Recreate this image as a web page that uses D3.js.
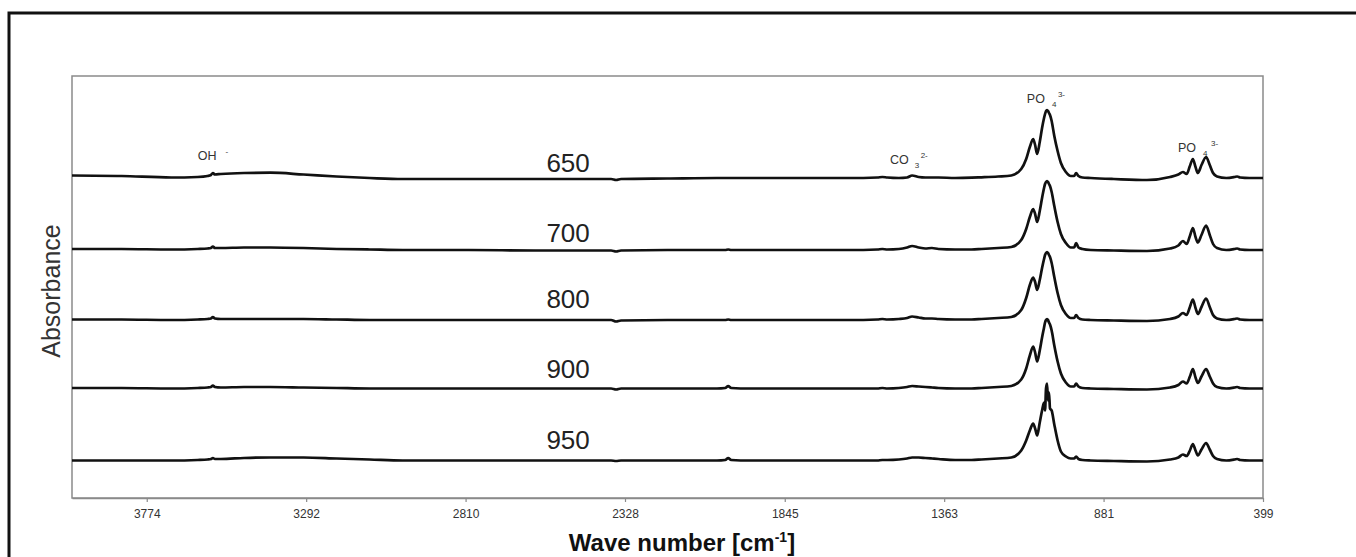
<!DOCTYPE html>
<html>
<head>
<meta charset="utf-8">
<title>FTIR spectra</title>
<script src="https://d3js.org/d3.v7.min.js"></script>
<style>
  body { margin: 0; background: #fff; }
  text { font-family: "Liberation Sans", Arial, sans-serif; }
</style>
</head>
<body>
<script>

// wave numbers (cm-1), high to low
var waveNumbers = [4000, 3850, 3700, 3620, 3590, 3580, 3574, 3568, 3550, 3480,
  3400, 3300, 3200, 3100, 3000, 2800, 2600, 2400, 2370, 2355,
  2340, 2200, 2050, 2025, 2016, 2007, 1950, 1800, 1650, 1565,
  1550, 1535, 1500, 1475, 1460, 1440, 1420, 1400, 1380, 1330,
  1280, 1250, 1200, 1160, 1130, 1115, 1104, 1094, 1088, 1082,
  1074, 1067, 1061, 1058, 1055, 1052, 1049, 1046, 1043, 1038,
  1030, 1020, 1010, 995, 980, 970, 964, 957, 945, 920,
  850, 750, 680, 655, 641, 630, 620, 611, 603, 596,
  585, 571, 560, 550, 538, 510, 485, 477, 468, 440,
  420, 399];

// absorbance above each trace's own baseline (arbitrary units)
var abs650 = [2.5, 2, 0.5, 1, 2, 3, 5, 3.5, 4, 5,
  5.3, 3.5, 1.5, 0, -1, -1, -1, -1, -1, -2,
  -1, -0.5, 0, 0, 0, 0, 0, 0, 0, 0.5,
  1, 0.5, 0, 0.5, 2.5, 1, 0.5, 0.5, 0.5, 0,
  0.3, 0.7, 1.5, 2.5, 9, 19, 31, 39, 33, 24,
  36, 50, 60, 64, 67, 68, 67, 65, 63, 57,
  42, 27, 15, 6, 2, 2, 5, 2, 0.5, 0,
  -1, -2, 1, 3.5, 6, 4, 12, 19, 11, 5,
  13, 21, 13, 5, 1.5, 0, 1, 1.5, 0.5, 0,
  0, 0];
var abs700 = [1, 1, 0.5, 1, 1.5, 2, 3.5, 2, 2, 2.5,
  2.5, 2, 1, 0.5, 0, 0, -0.5, -0.5, -0.5, -1.5,
  -0.5, 0, 0, 0, 0.5, 0, 0, 0, 0, 0.5,
  1, 0.5, 1, 2.5, 4, 2.5, 1.5, 2, 1, 0.5,
  0.5, 1, 2, 3, 10, 21, 33, 41, 36, 28,
  39, 52, 62, 66, 68, 69, 68, 66, 64, 58,
  44, 28, 16, 7, 2.5, 2.5, 7, 2.5, 1, 0,
  -0.5, -1, 1.5, 4.5, 9, 6, 14, 22, 13, 7.5,
  15, 24.5, 15, 6, 2, 0, 1, 1.5, 0.5, 0,
  0, 0];
var abs800 = [0.5, 0.5, 0, 0.5, 1, 1.5, 3, 1.5, 1, 1,
  1, 1, 0.5, 0, 0, 0, 0, 0, 0, -1.5,
  -0.5, 0, 0, 0, 0.5, 0, 0, 0, 0, 0.5,
  1, 0.5, 1, 2, 3.5, 2.5, 1.5, 1.5, 1, 0.5,
  0.5, 1, 2, 3, 10, 22, 35, 42.5, 38, 30,
  40, 52, 61, 65, 67, 68, 67, 65, 63, 57,
  43, 27, 15, 6, 2, 2, 5, 2, 0.5, 0,
  -0.5, -1, 1, 3.5, 7, 5, 13, 20.5, 12, 6,
  13, 21.5, 13, 5, 1.5, 0, 1, 1.5, 0.5, 0,
  0, 0];
var abs900 = [0.5, 0.5, 0, 0.5, 1, 1.5, 3, 1.5, 1, 1.5,
  1.5, 1, 0.5, 0, 0, 0, 0, 0, 0, -1,
  0, 0, 0, 0.5, 2.5, 0.5, 0, 0, 0, 0,
  0.5, 0, 0.5, 1.5, 2.5, 2, 1.5, 1, 0.5, 0,
  0, 0.5, 1.5, 2.5, 9, 20, 33, 42, 36, 27,
  38, 51, 61, 66, 68.5, 69.5, 68.5, 66, 64, 58,
  43, 27, 15, 6, 2, 2, 5, 2, 0.5, 0,
  -0.5, -1, 1, 3.5, 7, 5, 12, 19.5, 11, 5.5,
  12, 19.5, 12, 5, 1.5, 0, 1, 1.5, 0.5, 0,
  0, 0];
var abs950 = [0, 0, 0, 0.5, 1, 1.5, 2.5, 1.5, 1.5, 2.5,
  3, 3, 2, 1, 0, 0, 0, 0, 0, -0.5,
  0, 0, 0, 0.5, 2.5, 0.5, 0, 0, 0, 0,
  0.5, 0.5, 1, 2, 3, 3, 2.5, 2, 1.5, 0.5,
  0.5, 1, 2, 3, 10, 20, 30, 37, 32, 25,
  38, 50, 58, 50, 72, 77, 60, 68, 52, 50,
  36, 20, 9, 4, 2, 2, 4, 1.5, 0.5, 0,
  -0.5, -1, 1, 3, 6, 4.5, 10, 16.5, 10, 5,
  11, 17.5, 11, 4.5, 1.5, 0, 1, 1.5, 0.5, 0,
  0, 0];

var temperatures = ["650", "700", "800", "900", "950"];
var traceOffsets = [320, 248, 178, 109.5, 37.5];
var tickWaves = [3774, 3292, 2810, 2328, 1845, 1363, 881, 399];

var series = [abs650, abs700, abs800, abs900, abs950];

var width = 1356, height = 557;
var svg = d3.select("body").append("svg")
    .attr("width", width)
    .attr("height", height);

// outer black frame, runs off the right and bottom of the picture
svg.append("rect")
    .attr("x", 9).attr("y", 13)
    .attr("width", 1400).attr("height", 600)
    .attr("fill", "none")
    .attr("stroke", "#111")
    .attr("stroke-width", 3);

// plot box edges (window.top is taken, so no "top" here)
var plotL = 72, plotR = 1263, plotT = 76, plotB = 498;

var x = d3.scaleLinear().domain([4000, 399]).range([plotL, plotR]);
var y = d3.scaleLinear().domain([0, 422]).range([plotB, plotT]);

svg.append("rect")
    .attr("x", plotL).attr("y", plotT)
    .attr("width", plotR - plotL).attr("height", plotB - plotT)
    .attr("fill", "none")
    .attr("stroke", "#8a8a8a")
    .attr("stroke-width", 1.5);

var xAxis = d3.axisBottom(x)
    .tickValues(tickWaves)
    .tickFormat(d3.format("d"))
    .tickSizeInner(4)
    .tickSizeOuter(0)
    .tickPadding(7);

var gx = svg.append("g")
    .attr("transform", "translate(0," + plotB + ")")
    .call(xAxis);
gx.select(".domain").attr("stroke", "#8a8a8a").attr("stroke-width", 1.5);
gx.selectAll(".tick line").attr("stroke", "#8a8a8a").attr("stroke-width", 1.2);
gx.selectAll(".tick text")
    .attr("fill", "#333")
    .style("font-size", "12px")
    .style("font-family", "'Liberation Sans', Arial, sans-serif");

// spectra
var line = d3.line()
    .x(function (d) { return x(d[0]); })
    .y(function (d) { return y(d[1]); })
    .curve(d3.curveMonotoneX);

series.forEach(function (values, i) {
  var pts = waveNumbers.map(function (w, j) { return [w, values[j] + traceOffsets[i]]; });
  svg.append("path")
      .datum(pts)
      .attr("d", line)
      .attr("fill", "none")
      .attr("stroke", "#111")
      .attr("stroke-width", 2.7)
      .attr("stroke-linejoin", "round");
});

// temperature labels
var labelDy = [-6, -8, -12, -11, -12];
temperatures.forEach(function (t, i) {
  svg.append("text")
      .attr("x", x(2500))
      .attr("y", y(traceOffsets[i]) + labelDy[i])
      .attr("text-anchor", "middle")
      .attr("fill", "#222")
      .style("font-size", "26px")
      .text(t);
});

// band labels: main text, then subscript and superscript a bit to the right
function bandLabel(wave, yy, main, sub, sup, subGap, supGap) {
  var t = svg.append("text")
      .attr("x", x(wave))
      .attr("y", yy)
      .attr("fill", "#333")
      .style("font-size", "12.5px")
      .text(main);
  var w = t.node().getComputedTextLength();
  if (sub) {
    svg.append("text")
        .attr("x", x(wave) + w + subGap)
        .attr("y", yy + 4)
        .attr("fill", "#333")
        .style("font-size", "8px")
        .text(sub);
  }
  if (sup) {
    svg.append("text")
        .attr("x", x(wave) + w + supGap)
        .attr("y", yy - 6)
        .attr("fill", "#333")
        .style("font-size", "8px")
        .text(sup);
  }
}
bandLabel(3620, 160, "OH", null, "-", 0, 9);
bandLabel(1527, 164, "CO", "3", "2-", 6, 12);
bandLabel(1113, 103, "PO", "4", "3-", 7, 13);
bandLabel(656, 152, "PO", "4", "3-", 7, 15);

// axis titles
svg.append("text")
    .attr("transform", "translate(60,291) rotate(-90)")
    .attr("text-anchor", "middle")
    .attr("fill", "#333")
    .style("font-size", "25px")
    .text("Absorbance");

var xt = svg.append("text")
    .attr("x", 682)
    .attr("y", 551)
    .attr("text-anchor", "middle")
    .attr("fill", "#111")
    .style("font-size", "24px")
    .style("font-weight", "bold");
xt.append("tspan").text("Wave number [cm");
xt.append("tspan").attr("dy", -9).style("font-size", "14px").text("-1");
xt.append("tspan").attr("dy", 9).text("]");

</script>
</body>
</html>
